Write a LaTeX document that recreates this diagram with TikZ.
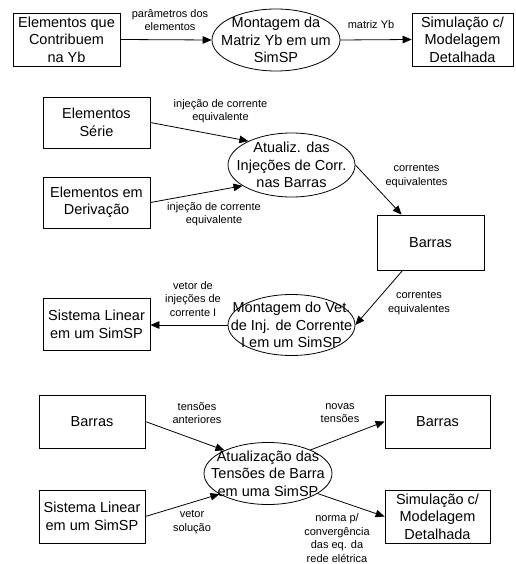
\documentclass[tikz,border=0pt]{standalone}
\usepackage{fontspec}
\setmainfont{Liberation Sans}
\usetikzlibrary{arrows.meta,shapes.geometric}
\newcommand\mainsize{\fontsize{14.5}{17.5}\selectfont}
\newcommand\notesize{\fontsize{11}{13.5}\selectfont}
\begin{document}
\begin{tikzpicture}[x=1pt,y=-1pt,
  box/.style={draw,line width=0.8pt,rectangle,inner sep=0pt,align=center,font=\mainsize},
  proc/.style={draw,line width=0.8pt,ellipse,inner sep=0pt,minimum width=128pt,minimum height=62pt},
  proctext/.style={inner sep=0pt,align=center,font=\mainsize},
  lbl/.style={inner sep=0pt,align=center,font=\notesize},
  flow/.style={line width=0.8pt,-{Triangle[length=9pt,width=7.5pt]}}]
\path[fill=white] (0,0) rectangle (515,564);
\useasboundingbox (0,0) rectangle (515,564);

% ---- assembly of the admittance matrix
\node[box,minimum width=107pt,minimum height=53pt] (eA) at (66.5,39.5) {Elementos que\\Contribuem\\na Yb};
\node[proc] (mA) at (276,40) {};
\node[proctext] (mAt) at (mA.center) {Montagem da\\Matriz Yb em um\\SimSP};
\node[box,minimum width=101pt,minimum height=53pt] (sA) at (462.5,39.5) {Simulação c/\\Modelagem\\Detalhada};
\draw[flow] (eA.east) -- (mA.west);
\draw[flow] (mA.east) -- (sA.west);
\node[lbl] (lA1) at (170,20) {parâmetros dos\\elementos};
\node[lbl] (lA2) at (371,25) {matriz Yb};

% ---- update of the bus current injections
\node[box,minimum width=107pt,minimum height=51pt] (eS) at (96.5,122.5) {Elementos\\Série};
\node[box,minimum width=107pt,minimum height=51pt] (eD) at (96.5,202.5) {Elementos em\\Derivação};
\node[proc,minimum width=127pt,minimum height=64pt] (mB) at (291.5,165) {};
\node[proctext] (mBt) at (mB.center) {Atualiz. das\\Injeções de Corr.\\nas Barras};
\node[box,minimum width=107pt,minimum height=55pt] (bB) at (430.5,242.5) {Barras};
\draw[flow] (eS.east) -- (mB.151);
\draw[flow] (eD.east) -- (mB.203);
\draw[flow] (mB.east) -- (bB.136);
\node[lbl] (lB1) at (220.5,111) {injeção de corrente\\equivalente};
\node[lbl] (lB2) at (214,214) {injeção de corrente\\equivalente};
\node[lbl] (lB3) at (416.5,176) {correntes\\equivalentes};

% ---- assembly of the current injection vector
\node[proc,minimum width=127pt,minimum height=61pt] (mC) at (291.5,325) {};
\node[proctext] (mCt) at (mC.center) {Montagem do Vet.\\de Inj. de Corrente\\I em um SimSP};
\node[box,minimum width=107pt,minimum height=52pt] (sL) at (96.5,324.5) {Sistema Linear\\em um SimSP};
\draw[flow] (bB.225) -- (mC.east);
\draw[flow] (mC.west) -- (sL.east |- mC.west);
\node[lbl] (lC1) at (419,303) {correntes\\equivalentes};
\node[lbl] (lC2) at (193,299) {vetor de\\injeções de\\corrente I};

% ---- update of the bus voltages
\node[box,minimum width=106pt,minimum height=53pt] (bL) at (92,421.5) {Barras};
\node[box,minimum width=106pt,minimum height=53pt] (sL2) at (92,516.5) {Sistema Linear\\em um SimSP};
\node[proc,minimum width=128pt,minimum height=62pt] (mD) at (268,473.5) {};
\node[proctext] (mDt) at (mD.center) {Atualização das\\Tensões de Barra\\em uma SimSP};
\node[box,minimum width=105pt,minimum height=53pt] (bR) at (437.5,421.5) {Barras};
\node[box,minimum width=105pt,minimum height=53pt] (sR) at (437.5,516.5) {Simulação c/\\Modelagem\\Detalhada};
\draw[flow] (bL.east) -- (mD.152);
\draw[flow] (sL2.east) -- (mD.203);
\draw[flow] (mD.29) -- (bR.west);
\draw[flow] (mD.-22) -- (sR.west);
\node[lbl] (lD1) at (197,413) {tensões\\anteriores};
\node[lbl] (lD2) at (192,522) {vetor\\solução};
\node[lbl] (lD3) at (340,413) {novas\\tensões};
\node[lbl] (lD4) at (337,538) {norma p/\\convergência\\das eq. da\\rede elétrica};
\end{tikzpicture}
\end{document}
